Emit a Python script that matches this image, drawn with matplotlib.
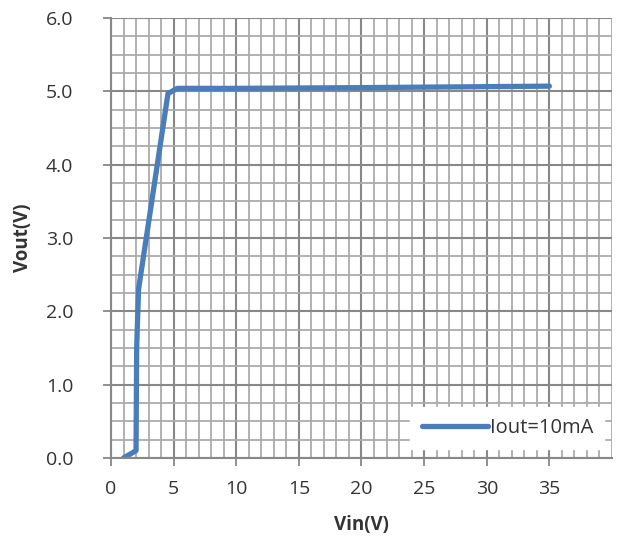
import matplotlib
matplotlib.use("Agg")
import matplotlib.pyplot as plt
from matplotlib.ticker import MultipleLocator, FormatStrFormatter

vin = [1.0, 2.0, 2.05, 2.2, 4.55, 5.3, 10.0, 20.0, 35.0]
vout = [0.0, 0.1, 1.5, 2.3, 4.97, 5.04, 5.04, 5.05, 5.07]
series_label = "Iout=10mA"
x_label = "Vin(V)"
y_label = "Vout(V)"

plt.rcParams['font.family'] = ['Open Sans', 'DejaVu Sans']

fig = plt.figure(figsize=(6.19, 5.46), dpi=100)
ax = fig.add_axes([0.1793, 0.1612, 0.8094, 0.8059])

ax.set_xlim(0, 40)
ax.set_ylim(0, 6)
ax.xaxis.set_major_locator(MultipleLocator(5))
ax.xaxis.set_minor_locator(MultipleLocator(1))
ax.yaxis.set_major_locator(MultipleLocator(1))
ax.yaxis.set_minor_locator(MultipleLocator(0.25))
ax.yaxis.set_major_formatter(FormatStrFormatter('%.1f'))
ax.set_xticks(range(0, 40, 5))
ax.set_xticklabels([str(v) for v in range(0, 40, 5)])

ax.grid(which='major', color='#888888', linewidth=1.5)
ax.grid(which='minor', color='#ababab', linewidth=1.3)
ax.set_axisbelow(True)

for s in ['top', 'right']:
    ax.spines[s].set_visible(False)
for s in ['left', 'bottom']:
    ax.spines[s].set_color('#888888')
    ax.spines[s].set_linewidth(1.5)

ax.tick_params(axis='y', which='major', length=6, width=1.3, color='#888888',
               labelsize=14, labelcolor='#333333', pad=21)
ax.tick_params(axis='x', which='major', length=6, width=1.3, color='#888888',
               labelsize=14, labelcolor='#333333', pad=10)
ax.tick_params(which='minor', length=0)

ax.plot(vin, vout, color='#4a7ebb', linewidth=3.8, label=series_label,
        solid_joinstyle='round', solid_capstyle='round')

leg = ax.legend(loc='lower right', bbox_to_anchor=(0.985, 0.02), frameon=True,
                fancybox=False, framealpha=1.0, edgecolor='white',
                fontsize=14.5, handlelength=3.3, handletextpad=0.1,
                borderpad=0.55, borderaxespad=0.0)
for t in leg.get_texts():
    t.set_color('#333333')

ax.set_xlabel(x_label, fontsize=13.5, fontweight='bold', color='#333333', labelpad=12)
ax.set_ylabel(y_label, fontsize=13.5, fontweight='bold', color='#333333', labelpad=9)

fig.savefig("out.png", dpi=100)
